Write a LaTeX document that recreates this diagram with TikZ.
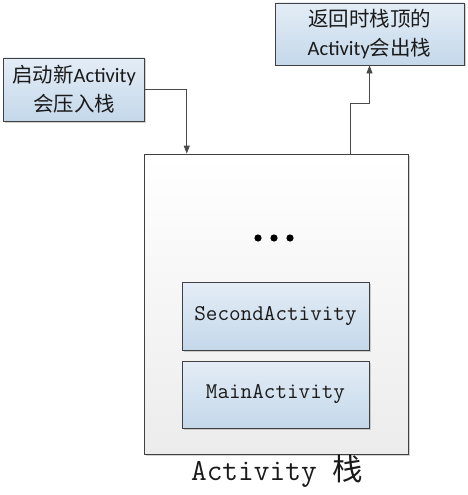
\documentclass[tikz,border=0pt]{standalone}
\usepackage{fontspec}
\setmainfont{Carlito}
\newfontfamily\cjk{Noto Sans CJK SC}
\usetikzlibrary{arrows.meta, calc, shadows}
\definecolor{boxtop}{HTML}{E4EDF6}
\definecolor{boxbottom}{HTML}{C4D8EA}
\definecolor{stackbottom}{HTML}{ECECEC}
\definecolor{edgegray}{HTML}{404040}
\definecolor{linegray}{HTML}{4A4A4A}
\definecolor{textdark}{HTML}{1A1A1A}

\begin{document}
\begin{tikzpicture}[
    x=1pt, y=-1pt,
    note/.style={rectangle, draw=edgegray, line width=0.8pt, top color=boxtop, bottom color=boxbottom,
        drop shadow={shadow xshift=1.5pt, shadow yshift=-1.5pt, opacity=0.35},
        align=center, text=textdark, font=\fontsize{20.5}{29}\selectfont},
    act/.style={rectangle, draw=edgegray, line width=0.8pt, top color=boxtop, bottom color=boxbottom,
        drop shadow={shadow xshift=1.5pt, shadow yshift=-1.5pt, opacity=0.35},
        minimum width=187pt, text=textdark, font=\ttfamily\fontsize{22.5}{24}\selectfont},
    arr/.style={draw=linegray, line width=0.8pt, -{Triangle[length=8pt,width=6pt]}},
]
\useasboundingbox (0,0) rectangle (468,495);

% stack
\node[rectangle, draw=edgegray, line width=0.8pt, top color=white, bottom color=stackbottom,
    drop shadow={shadow xshift=1.5pt, shadow yshift=-1.5pt, opacity=0.35},
    minimum width=264pt, minimum height=300pt] (stack) at (276,304) {};
\node[act, minimum height=68pt] (second) at (275.5,316) {SecondActivity};
\node[act, minimum height=67pt] (main) at (275.5,394.5) {MainActivity};
\foreach \dx in {-16,0,16}
    \fill[black] (274+\dx,238) circle (3.6pt);
\node[font=\ttfamily\fontsize{30.5}{32}\selectfont, text=textdark] (label) at (277,471) {Activity {\cjk 栈}};

% push / pop
\node[note, minimum width=141pt, minimum height=63pt] (push) at (74,89.5) {{\cjk 启动新}Activity\\{\cjk 会压入栈}};
\node[note, minimum width=189pt, minimum height=62pt] (pop) at (369.5,34) {{\cjk 返回时栈顶的}\\Activity{\cjk 会出栈}};

\coordinate (in) at ($(stack.north west)!0.163!(stack.north east)$);
\coordinate (out) at ($(stack.north west)!0.78!(stack.north east)$);
\draw[arr] (push.east) -| (in);
\draw[arr] (out) |- ($(out)!0.57!(pop.south)$) -| (pop.south);

\end{tikzpicture}
\end{document}
